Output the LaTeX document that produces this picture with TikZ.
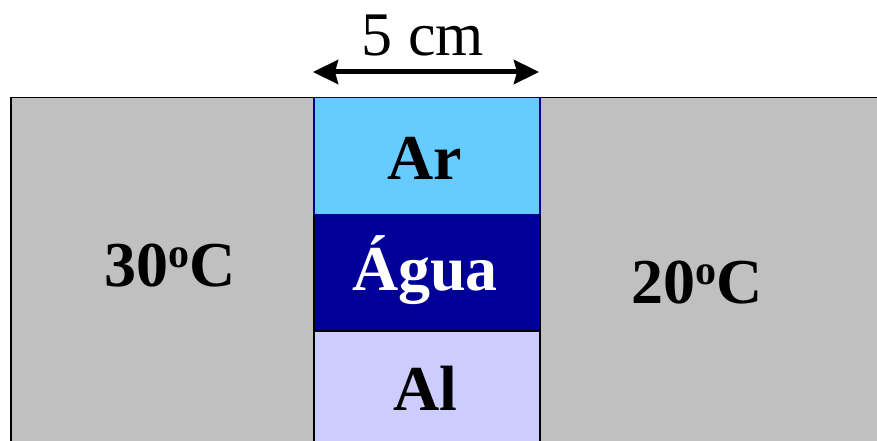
\documentclass[tikz,border=0pt]{standalone}
\usepackage{fontspec}
\setmainfont{Liberation Serif}
\usetikzlibrary{arrows.meta}
\definecolor{grayfill}{RGB}{192,192,192}
\definecolor{arfill}{RGB}{102,204,255}
\definecolor{aguafill}{RGB}{0,0,153}
\definecolor{alfill}{RGB}{204,204,255}
\newcommand{\dego}{\raisebox{19pt}{\fontsize{42}{44}\selectfont o}}
\begin{document}
\begin{tikzpicture}[x=1pt,y=-1pt,
  layer/.style={draw=black,line width=1.5pt,minimum width=226pt,minimum height=116.5pt,inner sep=0pt,anchor=north west},
  lbl/.style={font=\fontsize{64}{70}\selectfont\bfseries},
  dim/.style={line width=5pt,{Stealth[length=25pt,width=24pt,inset=3pt]}-{Stealth[length=25pt,width=24pt,inset=3pt]}}]
\useasboundingbox (0,0) rectangle (877,441);
\clip (0,0) rectangle (877,441);
\node[draw=black,line width=1.5pt,fill=grayfill,minimum width=880pt,minimum height=360pt,inner sep=0pt,anchor=north west] (block) at (10,97) {};
\node[layer,fill=aguafill] (agua) at (313,213) {};
\node[layer,fill=alfill,minimum height=130pt] (al) at (313,330) {};
\node[layer,fill=arfill,draw=aguafill] (ar) at (313,97) {};
\node[lbl] (tar) at (425,158) {Ar};
\node[lbl,text=white] (tagua) at (425,270) {Água};
\node[lbl] (tal) at (425,388) {Al};
\node[lbl] (thot) at (170,266) {30\dego C};
\node[lbl] (tcold) at (697,283) {20\dego C};
\coordinate (dl) at (313,72);
\coordinate (dr) at (539,72);
\draw[dim] (dl) -- (dr);
\node[font=\fontsize{62}{66}\selectfont] (tdim) at (423,36) {5 cm};
\end{tikzpicture}
\end{document}
